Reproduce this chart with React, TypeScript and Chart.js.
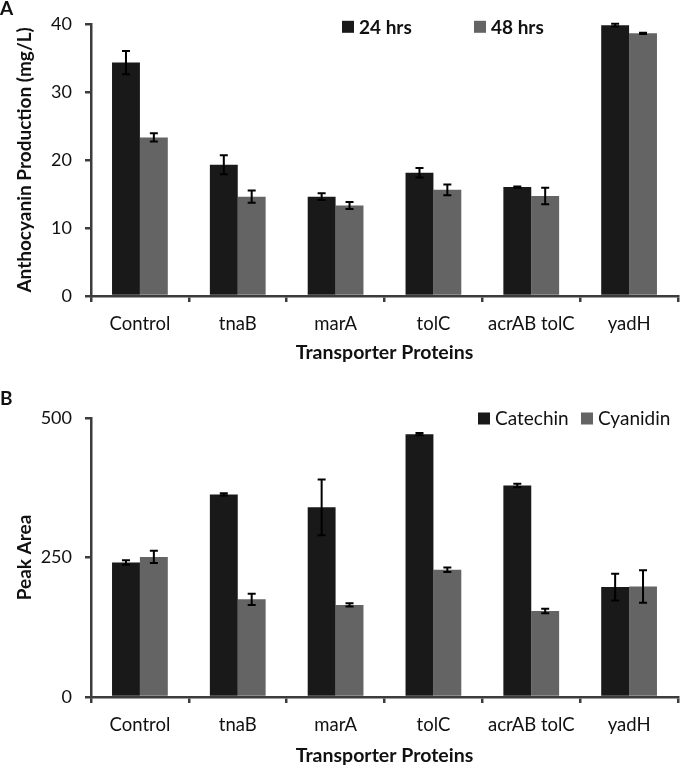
import React, { useEffect, useRef } from "react";
import { Chart, registerables } from "chart.js";

Chart.register(...registerables);

const categories = ["Control", "tnaB", "marA", "tolC", "acrAB tolC", "yadH"];

// Panel A: anthocyanin production (mg/L)
const hrs24 = [34.3, 19.3, 14.6, 18.1, 16.0, 39.8];
const hrs24Err = [1.7, 1.4, 0.5, 0.7, 0.1, 0.2];
const hrs48 = [23.3, 14.6, 13.3, 15.6, 14.7, 38.6];
const hrs48Err = [0.6, 0.9, 0.5, 0.8, 1.2, 0.1];
const ticksA = [0, 10, 20, 30, 40];

// Panel B: peak area
const catechin = [241, 363, 340, 471, 379, 197];
const catechinErr = [4, 2, 50, 2, 3, 24];
const cyanidin = [251, 175, 165, 228, 154, 198];
const cyanidinErr = [11, 10, 3, 4, 4, 29];
const ticksB = [0, 250, 500];

const BLACK = "#191919";
const GRAY = "#646464";
const AXIS = "#3c3c3c";
const FONT = "Lato, 'Open Sans', sans-serif";

function errorBarPlugin(errs: number[][]) {
  return {
    id: "errbars",
    afterDatasetsDraw(chart: any) {
      const ctx = chart.ctx;
      const y = chart.scales.y;
      ctx.save();
      ctx.strokeStyle = "#000";
      ctx.lineWidth = 2;
      chart.data.datasets.forEach((ds: any, di: number) => {
        const meta = chart.getDatasetMeta(di);
        meta.data.forEach((bar: any, i: number) => {
          const v = ds.data[i];
          const e = errs[di][i];
          const x = bar.x;
          const yt = y.getPixelForValue(v + e);
          const yb = y.getPixelForValue(v - e);
          ctx.beginPath();
          ctx.moveTo(x, yt);
          ctx.lineTo(x, yb);
          ctx.moveTo(x - 4, yt);
          ctx.lineTo(x + 4, yt);
          ctx.moveTo(x - 4, yb);
          ctx.lineTo(x + 4, yb);
          ctx.stroke();
        });
      });
      ctx.restore();
    },
  };
}

function legendPlugin(items: { label: string; color: string; dx: number }[], dy: number, font: string) {
  return {
    id: "customLegend",
    afterDraw(chart: any) {
      const ctx = chart.ctx;
      const area = chart.chartArea;
      ctx.save();
      ctx.font = font;
      ctx.textBaseline = "middle";
      ctx.textAlign = "left";
      items.forEach((it) => {
        const x = area.left + it.dx;
        const yc = area.top + dy;
        ctx.fillStyle = it.color;
        ctx.fillRect(x, yc - 6, 12, 12);
        ctx.fillStyle = "#111";
        ctx.fillText(it.label, x + 17, yc + 0.7);
      });
      ctx.restore();
    },
  };
}

function makeConfig(opts: {
  labels: string[];
  series: { label: string; data: number[]; color: string }[];
  errs: number[][];
  yMax: number;
  yTicks: number[];
  yTitle: string;
  topPad: number;
  xHeight: number;
  xTitlePad: number;
  legendItems: { label: string; color: string; dx: number }[];
  legendDy: number;
  legendFont: string;
}) {
  return {
    type: "bar" as const,
    data: {
      labels: opts.labels,
      datasets: opts.series.map((s) => ({
        label: s.label,
        data: s.data,
        backgroundColor: s.color,
        borderWidth: 0,
        categoryPercentage: 0.57,
        barPercentage: 1.0,
      })),
    },
    options: {
      animation: false,
      responsive: false,
      maintainAspectRatio: false,
      layout: { padding: { left: 0, right: 2, top: opts.topPad, bottom: 0 } },
      plugins: {
        legend: { display: false },
        tooltip: { enabled: false },
      },
      scales: {
        x: {
          offset: true,
          grid: {
            display: true,
            drawOnChartArea: false,
            drawTicks: true,
            tickLength: 6,
            offset: true,
            color: AXIS,
            lineWidth: 2.5,
          },
          border: { display: true, color: AXIS, width: 2.5 },
          ticks: {
            font: { family: FONT, size: 18.5 },
            color: "#111",
            padding: 11,
            maxRotation: 0,
            autoSkip: false,
          },
          title: {
            display: true,
            text: "Transporter Proteins",
            font: { family: FONT, size: 19.5, weight: "bold" },
            color: "#111",
            padding: { top: 0, bottom: opts.xTitlePad },
          },
          afterFit: (s: any) => {
            s.height = opts.xHeight;
          },
        },
        y: {
          min: 0,
          max: opts.yMax,
          afterBuildTicks: (s: any) => {
            s.ticks = opts.yTicks.map((v) => ({ value: v }));
          },
          grid: {
            display: true,
            drawOnChartArea: false,
            drawTicks: true,
            tickLength: 6,
            color: AXIS,
            lineWidth: 2.5,
          },
          border: { display: true, color: AXIS, width: 2.5 },
          ticks: {
            font: { family: FONT, size: 18 },
            color: "#111",
            padding: 13,
          },
          title: {
            display: true,
            text: opts.yTitle,
            font: { family: FONT, size: 19, weight: "bold" },
            color: "#111",
            padding: { top: 13, bottom: 0 },
          },
          afterFit: (s: any) => {
            s.width = 91;
          },
        },
      },
    },
    plugins: [
      errorBarPlugin(opts.errs),
      legendPlugin(opts.legendItems, opts.legendDy, opts.legendFont),
    ],
  };
}

function ChartCanvas({ config, width, height }: { config: any; width: number; height: number }) {
  const ref = useRef<HTMLCanvasElement | null>(null);
  useEffect(() => {
    if (!ref.current) return;
    const chart = new Chart(ref.current, config);
    return () => chart.destroy();
  }, []);
  return <canvas ref={ref} width={width} height={height} style={{ display: "block", width, height }} />;
}

export default function App() {
  const configA = makeConfig({
    labels: categories,
    series: [
      { label: "24 hrs", data: hrs24, color: BLACK },
      { label: "48 hrs", data: hrs48, color: GRAY },
    ],
    errs: [hrs24Err, hrs48Err],
    yMax: 40,
    yTicks: ticksA,
    yTitle: "Anthocyanin Production (mg/L)",
    topPad: 23,
    xHeight: 96,
    xTitlePad: 27.5,
    legendItems: [
      { label: "24 hrs", color: BLACK, dx: 251 },
      { label: "48 hrs", color: GRAY, dx: 383 },
    ],
    legendDy: 3,
    legendFont: `bold 19px ${FONT}`,
  });
  const configB = makeConfig({
    labels: categories,
    series: [
      { label: "Catechin", data: catechin, color: BLACK },
      { label: "Cyanidin", data: cyanidin, color: GRAY },
    ],
    errs: [catechinErr, cyanidinErr],
    yMax: 500,
    yTicks: ticksB,
    yTitle: "Peak Area",
    topPad: 26,
    xHeight: 72,
    xTitlePad: 2,
    legendItems: [
      { label: "Catechin", color: BLACK, dx: 387 },
      { label: "Cyanidin", color: GRAY, dx: 490 },
    ],
    legendDy: 0.5,
    legendFont: `19px ${FONT}`,
  });
  const letter: React.CSSProperties = {
    position: "absolute",
    left: 0,
    fontFamily: FONT,
    fontWeight: "bold",
    fontSize: 19,
    lineHeight: "19px",
    color: "#111",
  };
  return (
    <div style={{ position: "absolute", left: 0, top: 0, width: 680, height: 769, background: "#fff", overflow: "hidden" }}>
      <div style={{ position: "absolute", left: 0, top: 0 }}>
        <ChartCanvas config={configA} width={680} height={392} />
      </div>
      <div style={{ position: "absolute", left: 0, top: 392 }}>
        <ChartCanvas config={configB} width={680} height={377} />
      </div>
      <div style={{ ...letter, top: -2 }}>A</div>
      <div style={{ ...letter, top: 388 }}>B</div>
    </div>
  );
}
